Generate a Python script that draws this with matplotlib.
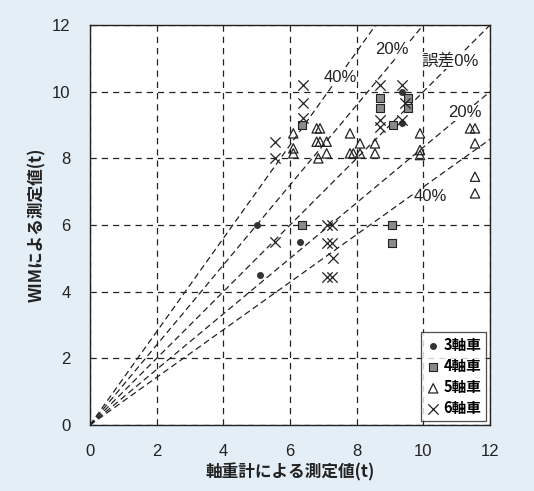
import numpy as np
import matplotlib
matplotlib.use('Agg')
import matplotlib.pyplot as plt

plt.rcParams['font.family'] = ['Noto Sans CJK JP', 'DejaVu Sans']

# 軸重計 (x) vs WIM (y), tonnes
x3 = [5.0, 5.1, 6.3, 9.35, 9.35]
y3 = [6.0, 4.5, 5.5, 10.0, 9.05]

x4 = [6.35, 9.05, 9.05, 8.7, 8.7, 9.1, 9.55, 9.55, 6.35]
y4 = [6.0, 6.0, 5.45, 9.8, 9.5, 9.0, 9.8, 9.5, 9.0]

x5 = [6.1, 6.1, 6.1, 6.8, 6.9, 6.8, 6.9, 6.85, 7.1, 7.1,
      7.8, 7.8, 7.9, 8.1, 8.1, 8.55, 8.55, 9.9, 9.9, 9.9,
      11.4, 11.55, 11.55, 11.55, 11.55]
y5 = [8.75, 8.3, 8.15, 8.9, 8.9, 8.5, 8.5, 8.0, 8.5, 8.15,
      8.75, 8.15, 8.15, 8.45, 8.15, 8.45, 8.15, 8.75, 8.25, 8.1,
      8.9, 8.9, 8.45, 7.45, 6.95]

x6 = [6.4, 6.4, 6.4, 5.55, 5.55, 5.55, 8.7, 8.7, 8.7, 9.35, 9.45, 9.35,
      7.1, 7.25, 7.1, 7.25, 7.3, 7.1, 7.25]
y6 = [10.2, 9.65, 9.2, 8.5, 8.0, 5.5, 10.2, 9.15, 8.95, 10.2, 9.65, 9.15,
      6.0, 6.0, 5.45, 5.45, 5.0, 4.45, 4.45]

ratios = [1.4, 1.2, 1.0, 1 / 1.2, 1 / 1.4]
line_labels = ['40%', '20%', '誤差0%', '20%', '40%']
label_pos = [(7.5, 10.42), (9.05, 11.28), (10.8, 10.93), (11.25, 9.37), (10.2, 6.85)]

latin = ['Liberation Sans', 'Noto Sans CJK JP']

fig = plt.figure(figsize=(5.34, 4.91), dpi=100, facecolor='#e3eef7')
ax = fig.add_axes([0.1685, 0.1344, 0.7491, 0.8146])
ax.set_facecolor('white')

# reference error lines through the origin
xx = np.linspace(0, 12, 50)
for r in ratios:
    ax.plot(xx, r * xx, color='#222222', lw=0.9, ls=(0, (5, 3)), zorder=2)
for (tx, ty), lab in zip(label_pos, line_labels):
    ax.text(tx, ty, lab, fontsize=12, ha='center', va='center', color='#222222',
            family=latin,
            bbox=dict(facecolor='white', edgecolor='none', pad=0.5), zorder=3)

ax.scatter(x3, y3, s=16, marker='o', color='#333333', zorder=4, label='3軸車')
ax.scatter(x4, y4, s=28, marker='s', facecolor='#8a8a8a', edgecolor='#222222',
           linewidths=0.8, zorder=4, label='4軸車')
ax.scatter(x5, y5, s=45, marker='^', facecolor='none', edgecolor='#222222',
           linewidths=0.9, zorder=4, label='5軸車')
ax.scatter(x6, y6, s=55, marker='x', color='#222222', linewidths=0.9, zorder=4,
           label='6軸車')

ax.set_xlim(0, 12)
ax.set_ylim(0, 12)
ax.set_xticks(range(0, 13, 2))
ax.set_yticks(range(0, 13, 2))
ax.grid(True, color='#222222', ls=(0, (5, 4)), lw=0.9)
ax.tick_params(length=0, pad=14, labelsize=12, colors='#222222')
for lbl in ax.get_xticklabels() + ax.get_yticklabels():
    lbl.set_family(latin)
for sp in ax.spines.values():
    sp.set_color('#222222')
    sp.set_linewidth(1.0)

ax.set_xlabel('軸重計による測定値(t)', fontsize=12, fontweight='bold', color='#222222', labelpad=3)
ax.set_ylabel('WIMによる測定値(t)', fontsize=12, fontweight='bold', color='#222222', labelpad=4)

leg = ax.legend(loc='lower right', prop={'size': 10.5, 'weight': 'bold'}, frameon=True,
                fancybox=False, handletextpad=0.2, handlelength=1.0, borderpad=0.35,
                labelspacing=0.35, borderaxespad=0.25)
leg.get_frame().set_edgecolor('#222222')
leg.get_frame().set_linewidth(0.9)

fig.savefig('out.png', dpi=100, facecolor=fig.get_facecolor())
